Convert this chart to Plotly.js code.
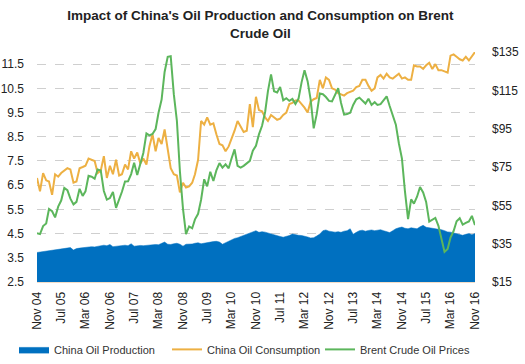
<!DOCTYPE html>
<html>
<head>
<meta charset="utf-8">
<script src="https://cdn.plot.ly/plotly-3.0.1.min.js"></script>
<style>html,body{margin:0;padding:0;background:#fff;}#chart{width:525px;height:364px;}</style>
</head>
<body>
<div id="chart"></div>
<script>
// Monthly series from Nov 2004 to Nov 2016 (145 months)
const startYear = 2004, startMonth = 11, monthCount = 145;
const months = [];
for (let i = 0; i < monthCount; i++) {
  const k = startMonth - 1 + i;
  const y = startYear + Math.floor(k / 12);
  const m = (k % 12) + 1;
  months.push(y + '-' + String(m).padStart(2, '0') + '-01');
}

// China Oil Production (left axis, million b/d)
const production = [
  3.72, 3.74, 3.76, 3.77, 3.78, 3.80, 3.82, 3.83, 3.85, 3.88, 3.90, 3.92,
  3.82, 3.88, 3.90, 3.92, 3.93, 3.95, 3.96, 3.95, 3.97, 3.98, 4.02, 4.00,
  4.05, 3.96, 3.98, 4.00, 3.99, 4.02, 4.00, 4.08, 3.98, 4.00, 4.01, 4.00,
  4.02, 4.01, 4.03, 4.05, 4.04, 4.08, 4.15, 4.06, 4.05, 4.08, 4.10, 4.06,
  3.98, 4.06, 4.05, 4.07, 4.10, 4.12, 4.08, 4.11, 4.12, 4.15, 4.17, 4.18,
  4.15, 4.06, 4.12, 4.20, 4.25, 4.30, 4.33, 4.38, 4.42, 4.45, 4.52, 4.56,
  4.62, 4.55, 4.58, 4.56, 4.52, 4.48, 4.45, 4.42, 4.38, 4.35, 4.38, 4.42,
  4.48, 4.45, 4.43, 4.42, 4.40, 4.36, 4.32, 4.33, 4.40, 4.48, 4.62, 4.65,
  4.60, 4.58, 4.56, 4.58, 4.55, 4.60, 4.62, 4.70, 4.47, 4.55, 4.62, 4.64,
  4.60, 4.63, 4.65, 4.62, 4.64, 4.66, 4.62, 4.58, 4.54, 4.62, 4.70, 4.74,
  4.77, 4.72, 4.70, 4.74, 4.72, 4.70, 4.78, 4.84, 4.76, 4.74, 4.72, 4.73,
  4.70, 4.66, 4.62, 4.57, 4.56, 4.52, 4.50, 4.46, 4.43, 4.47, 4.50, 4.45,
  4.50
];

// China Oil Consumption (left axis, million b/d)
const consumption = [
  6.80, 6.25, 7.00, 6.70, 6.65, 6.10, 6.95, 6.85, 7.00, 7.10, 7.20, 7.15,
  6.60, 6.65, 7.20, 7.25, 7.30, 7.60, 7.55, 7.50, 7.00, 7.10, 7.70, 6.80,
  7.30, 6.95, 7.55, 6.90, 6.95, 7.35, 7.15, 7.90, 7.60, 7.85, 7.40, 7.60,
  7.35, 8.10, 8.60, 7.90, 8.45, 8.20, 8.80, 8.00, 7.20, 6.95, 6.90, 6.20,
  6.60, 6.40, 6.45, 6.60, 6.95, 7.55, 9.15, 9.00, 9.30, 9.00, 9.05, 8.60,
  8.20, 8.15, 7.90, 8.10, 8.40, 8.75, 9.15, 8.95, 8.70, 8.75, 9.85, 8.90,
  10.15, 9.60, 9.55, 9.30, 9.15, 9.40, 9.30, 9.20, 9.25, 9.40, 9.50, 9.85,
  9.90, 10.00, 10.00, 9.85, 9.70, 9.50, 9.95, 10.05, 10.10, 10.85, 10.50, 10.95,
  10.85, 10.50, 10.45, 10.30, 10.25, 10.20, 10.30, 10.35, 10.40, 10.55, 10.60, 10.85,
  10.85, 10.60, 10.40, 10.50, 10.95, 11.05, 10.90, 11.10, 10.95, 10.90, 11.00, 11.10,
  10.90, 10.95, 10.85, 10.85, 11.45, 11.40, 11.40, 11.30, 11.45, 11.55, 11.30, 11.50,
  11.25, 11.25, 11.20, 11.15, 11.85, 11.90, 11.80, 11.70, 11.65, 11.80, 11.65, 11.80,
  12.00
];

// Brent Crude Oil Prices (right axis, USD)
const brent = [
  40.5, 40.0,
  44.2, 45.5, 53.1, 51.9, 48.7, 54.3, 57.5, 64.1, 62.9, 58.5, 55.5, 56.8,
  63.6, 59.9, 62.3, 70.4, 70.0, 68.9, 73.7, 73.2, 62.5, 58.0, 58.8, 62.0,
  53.7, 57.6, 62.1, 67.4, 67.5, 71.3, 77.2, 70.8, 77.1, 82.3, 92.5, 91.5,
  92.2, 94.8, 103.3, 110.2, 124.6, 132.5, 132.8, 113.0, 99.0, 72.8, 53.2, 40.0,
  44.0, 43.0, 47.7, 50.6, 57.9, 68.6, 64.9, 72.5, 67.7, 73.2, 77.0, 74.7,
  76.4, 74.3, 79.3, 84.2, 75.6, 74.7, 75.6, 77.1, 78.2, 83.5, 86.1, 92.0,
  96.5, 103.7, 114.6, 123.3, 114.5, 113.9, 116.7, 109.8, 110.9, 109.5, 110.5, 107.9,
  110.7, 119.3, 125.5, 119.8, 110.3, 95.2, 102.6, 113.4, 113.0, 111.5, 109.5, 109.2,
  112.3, 116.1, 108.5, 102.3, 102.6, 103.3, 107.4, 110.3, 111.2, 109.5, 108.1, 110.6,
  107.4, 108.8, 107.4, 107.8, 109.7, 111.9, 106.8, 101.6, 97.1, 87.4, 79.4, 62.3,
  47.8, 58.1, 55.9, 59.5, 64.6, 61.7, 56.8, 46.5, 47.6, 48.4, 44.3, 38.0,
  30.7, 32.2, 38.2, 41.6, 46.7, 48.3, 44.9, 45.8, 46.6, 49.5, 44.7
];

const seriesNames = ['China Oil Production', 'China Oil Consumption', 'Brent Crude Oil Prices'];
const titleText = "Impact of China's Oil Production and Consumption on Brent<br>Crude Oil";

const FONT = 'Arial, "Liberation Sans", sans-serif';

const traces = [
  {
    x: months, y: production, name: seriesNames[0], type: 'scatter', mode: 'lines',
    fill: 'tozeroy', fillcolor: '#0070C0', line: {color: '#0070C0', width: 0.5},
    yaxis: 'y'
  },
  {
    x: months, y: consumption, name: seriesNames[1], type: 'scatter', mode: 'lines',
    line: {color: '#EDB043', width: 2}, yaxis: 'y'
  },
  {
    x: months, y: brent, name: seriesNames[2], type: 'scatter', mode: 'lines',
    line: {color: '#5CB65C', width: 2}, yaxis: 'y2'
  }
];

const layout = {
  width: 525, height: 364,
  margin: {l: 37, r: 50, t: 52, b: 82, autoexpand: false},
  paper_bgcolor: '#ffffff', plot_bgcolor: '#ffffff',
  font: {family: FONT, size: 12, color: '#333333'},
  title: {
    text: titleText,
    font: {family: FONT, size: 13.5, color: '#222222', weight: 'bold'},
    x: 0.51, xanchor: 'center', xref: 'paper',
    y: 0.945, yanchor: 'middle', yref: 'container'
  },
  showlegend: true,
  legend: {
    orientation: 'h', x: -0.0525, xanchor: 'left', y: -0.23, yanchor: 'top',
    font: {family: FONT, size: 11, color: '#333333'},
    entrywidth: 108, entrywidthmode: 'pixels', itemwidth: 30, traceorder: 'normal'
  },
  xaxis: {
    type: 'date',
    range: ['2004-11-01', '2016-11-01'],
    tick0: '2004-11-01', dtick: 'M8', tickformat: '%b %y',
    tickangle: -90, showgrid: false, zeroline: false,
    showline: true, linecolor: '#F3DCC6', linewidth: 1,
    ticks: '', ticklabelstandoff: 4,
    tickfont: {family: FONT, size: 12, color: '#222222'}
  },
  yaxis: {
    range: [2.5, 12.0], tick0: 2.5, dtick: 1, tickformat: '.1f',
    showgrid: true, gridcolor: '#CFCFCF', griddash: 'dash', gridwidth: 1,
    zeroline: false, showline: false, ticks: '', ticklabelstandoff: 12,
    tickfont: {family: FONT, size: 12, color: '#222222'}
  },
  yaxis2: {
    overlaying: 'y', side: 'right',
    range: [15, 135], tick0: 15, dtick: 20, tickprefix: '$',
    showgrid: false, zeroline: false, showline: false, ticks: '', ticklabelstandoff: 16,
    tickfont: {family: FONT, size: 12, color: '#222222'}
  }
};

Plotly.newPlot('chart', traces, layout, {staticPlot: true, displayModeBar: false});
</script>
</body>
</html>
